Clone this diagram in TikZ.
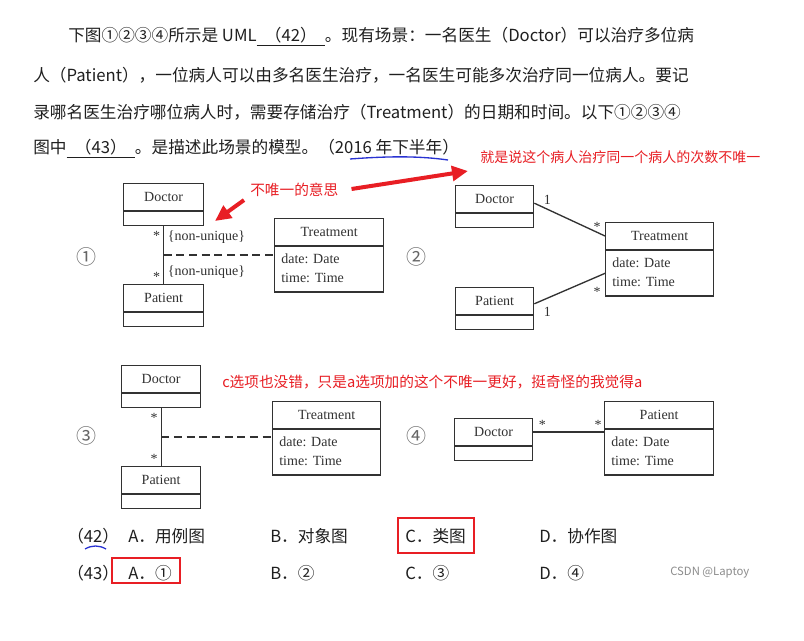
\documentclass[tikz,border=0pt]{standalone}
\usepackage{fontspec}
\setmainfont{Noto Sans CJK SC}
\newfontfamily\umlfont{Liberation Serif}
\usepackage{tikz}
\usetikzlibrary{calc, arrows.meta, shapes.multipart}

\definecolor{annored}{RGB}{232,30,36}
\definecolor{inkblue}{RGB}{40,50,210}
\definecolor{umlgray}{RGB}{50,50,50}

\tikzset{
  umlclass/.style={draw=umlgray, line width=1pt, rectangle split, rectangle split parts=2,
    rectangle split part align={center,left}, inner xsep=5pt, inner ysep=2.75pt,
    anchor=north west, text=umlgray, font=\umlfont\fontsize{10.5}{14}\selectfont},
  umlline/.style={draw=umlgray, line width=1pt},
  assocdash/.style={umlline, dash pattern=on 6pt off 3.5pt},
  umllabel/.style={inner sep=0pt, text=umlgray, font=\umlfont\fontsize{10.5}{14}\selectfont},
  circnum/.style={inner sep=0pt, text=black!60, font=\fontsize{15}{15}\selectfont},
  bodytext/.style={anchor=west, inner sep=0pt, text=black!88, font=\fontsize{12.5}{15}\selectfont},
  note/.style={anchor=west, inner sep=0pt, text=annored},
  redarrow/.style={draw=annored, line width=3pt, -{Triangle[length=12pt, width=11pt]}},
  answerbox/.style={draw=annored, line width=1.1pt},
}

\begin{document}
\begin{tikzpicture}[x=0.75pt, y=-0.75pt]
    \useasboundingbox (0,0) rectangle (804,641);
    \fill[white] (0,0) rectangle (804,641);

    % question text
    \node[bodytext] (line1) at (68,37) {下图①②③④所示是 UML\underline{\makebox[4.1em]{（42）}}。现有场景：一名医生（Doctor）可以治疗多位病};
    \node[bodytext] (line2) at (33,75) {人（Patient），一位病人可以由多名医生治疗，一名医生可能多次治疗同一位病人。要记};
    \node[bodytext] (line3) at (33,112) {录哪名医生治疗哪位病人时，需要存储治疗（Treatment）的日期和时间。以下①②③④};
    \node[bodytext] (line4) at (33,149) {图中\underline{\makebox[4.1em]{（43）}}。是描述此场景的模型。（2016 年下半年）};
    \draw[inkblue, line width=1pt] (350,159) .. controls (390,156) and (420,156) .. (448,160);

    % red notes
    \node[note, font=\fontsize{10.5}{12}\selectfont] (noteA) at (480,157) {就是说这个病人治疗同一个病人的次数不唯一};
    \node[note, font=\fontsize{11}{13}\selectfont] (noteB) at (250,190) {不唯一的意思};
    \node[note, font=\fontsize{11}{13}\selectfont] (noteC) at (222,382) {c选项也没错，只是a选项加的这个不唯一更好，挺奇怪的我觉得a};
    \coordinate (tipA) at (468,171);
    \coordinate (tipB) at (215,221);
    \draw[redarrow] ($(noteB.east)+(13,-1)$) -- (tipA);
    \draw[redarrow] ($(noteB.south west)+(-6,3)$) -- (tipB);

    % diagram 1
    \node[circnum] (num1) at (86,257) {①};
    \node[umlclass, minimum width=60pt] (doc1) at (123,183) {Doctor\strut\nodepart{two}\rule{0pt}{4.25pt}};
    \node[umlclass, minimum width=60pt] (pat1) at (123,284) {Patient\strut\nodepart{two}\rule{0pt}{4.25pt}};
    \node[umlclass, minimum width=81.75pt] (tre1) at (274,218) {Treatment\strut\nodepart{two}\begin{tabular}{@{}l@{}}date: Date\\time: Time\end{tabular}};
    \draw[umlline] (doc1.south) -- (pat1.north);
    \coordinate (mid1) at ($(doc1.south)!0.5!(pat1.north)$);
    \draw[assocdash] (mid1) -- (mid1 -| tre1.west);
    \node[umllabel] at ($(doc1.south)+(-7,10)$) {*};
    \node[umllabel] at ($(pat1.north)+(-7,-7)$) {*};
    \node[umllabel, anchor=west] at ($(doc1.south)+(4,11)$) {\{non-unique\}};
    \node[umllabel, anchor=west] at ($(pat1.north)+(4,-12)$) {\{non-unique\}};

    % diagram 2
    \node[circnum] (num2) at (416,257) {②};
    \node[umlclass, minimum width=58.5pt] (doc2) at (455,185) {Doctor\strut\nodepart{two}\rule{0pt}{4.25pt}};
    \node[umlclass, minimum width=58.5pt] (pat2) at (455,287) {Patient\strut\nodepart{two}\rule{0pt}{4.25pt}};
    \node[umlclass, minimum width=81pt] (tre2) at (605,222) {Treatment\strut\nodepart{two}\begin{tabular}{@{}l@{}}date: Date\\time: Time\end{tabular}};
    \coordinate (doc2e) at ($(doc2.north east)!0.65!(doc2.text split east)$);
    \coordinate (tre2w) at ($(tre2.north west)!0.5!(tre2.text split west)$);
    \coordinate (pat2e) at ($(pat2.north east)!0.6!(pat2.text split east)$);
    \coordinate (tre2a) at ($(tre2.text split west)!0.5!(tre2.south west)$);
    \draw[umlline] (doc2e) -- (tre2w);
    \draw[umlline] (pat2e) -- (tre2a);
    \node[umllabel] at ($(doc2e)+(13,-3)$) {1};
    \node[umllabel] at ($(tre2w)+(-8,-9)$) {*};
    \node[umllabel] at ($(tre2a)+(-8,19)$) {*};
    \node[umllabel] at ($(pat2e)+(13,8)$) {1};

    % diagram 3
    \node[circnum] (num3) at (86,436) {③};
    \node[umlclass, minimum width=59.25pt] (doc3) at (121,365) {Doctor\strut\nodepart{two}\rule{0pt}{4.25pt}};
    \node[umlclass, minimum width=59.25pt] (pat3) at (121,466) {Patient\strut\nodepart{two}\rule{0pt}{4.25pt}};
    \node[umlclass, minimum width=81pt] (tre3) at (272,401) {Treatment\strut\nodepart{two}\begin{tabular}{@{}l@{}}date: Date\\time: Time\end{tabular}};
    \draw[umlline] (doc3.south) -- (pat3.north);
    \coordinate (mid3) at ($(doc3.south)!0.5!(pat3.north)$);
    \draw[assocdash] (mid3) -- (mid3 -| tre3.west);
    \node[umllabel] at ($(doc3.south)+(-7,10)$) {*};
    \node[umllabel] at ($(pat3.north)+(-7,-7)$) {*};

    % diagram 4
    \node[circnum] (num4) at (416,436) {④};
    \node[umlclass, minimum width=58.5pt] (doc4) at (454,418) {Doctor\strut\nodepart{two}\rule{0pt}{4.25pt}};
    \node[umlclass, minimum width=81.75pt] (pat4) at (604,401) {Patient\strut\nodepart{two}\begin{tabular}{@{}l@{}}date: Date\\time: Time\end{tabular}};
    \coordinate (doc4e) at ($(doc4.north east)!0.5!(doc4.text split east)$);
    \draw[umlline] (doc4e) -- (doc4e -| pat4.west);
    \node[umllabel] at ($(doc4e)+(9,-7)$) {*};
    \node[umllabel] at ($(doc4e -| pat4.west)+(-6,-7)$) {*};

    % answer choices
    \node[bodytext] (q42) at (67,536) {（42）};
    \node[bodytext] (q42a) at (128,536) {A．用例图};
    \node[bodytext] (q42b) at (270,536) {B．对象图};
    \node[bodytext] (q42c) at (405,536) {C．类图};
    \node[bodytext] (q42d) at (539,536) {D．协作图};
    \node[bodytext] (q43) at (67,573) {（43）};
    \node[bodytext] (q43a) at (128,573) {A．①};
    \node[bodytext] (q43b) at (270,573) {B．②};
    \node[bodytext] (q43c) at (405,573) {C．③};
    \node[bodytext] (q43d) at (539,573) {D．④};
    \draw[answerbox] ($(q42c.west)+(-7,-18)$) rectangle ($(q42c.east)+(8,17)$);
    \draw[answerbox] ($(q43a.west)+(-16,-15)$) rectangle ($(q43a.east)+(8,10)$);
    \draw[inkblue, line width=1pt] (85,549) .. controls (92,545) and (99,545) .. (106,549);
    \node[anchor=west, inner sep=0pt, text=black!45, font=\fontsize{8.5}{10}\selectfont] (mark) at (670,573) {CSDN @Laptoy};
\end{tikzpicture}
\end{document}
